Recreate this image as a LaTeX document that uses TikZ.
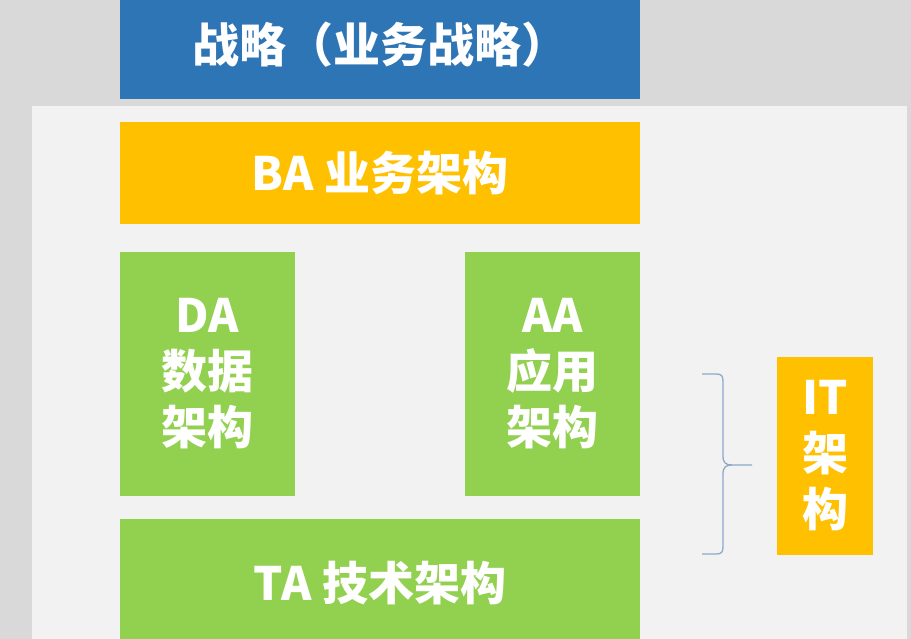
\documentclass[tikz,border=0pt]{standalone}
\usepackage{fontspec}
\newfontfamily\cjk{Noto Sans CJK SC}
\definecolor{bgouter}{HTML}{D9D9D9}
\definecolor{bginner}{HTML}{F2F2F2}
\definecolor{stratblue}{HTML}{2E75B6}
\definecolor{archyellow}{HTML}{FFC000}
\definecolor{archgreen}{HTML}{92D050}
\definecolor{bracecol}{HTML}{8EA9C9}
\tikzset{
  archbox/.style={draw=none, inner sep=0pt, text=white, align=center,
    font=\cjk\bfseries\fontsize{46}{56}\selectfont},
  titlebox/.style={archbox, font=\cjk\bfseries\fontsize{47}{56}\selectfont},
}
\begin{document}
\begin{tikzpicture}[x=1pt,y=-1pt]
\useasboundingbox (0,0) rectangle (911,639);
\fill[bgouter] (0,0) rectangle (911,639);
\fill[bginner] (32,106) rectangle (907,645);
\node[titlebox, fill=stratblue, minimum width=520pt, minimum height=108pt] (strat) at (380,45) {战略（业务战略）};
\node[archbox, fill=archyellow, minimum width=520pt, minimum height=102pt] (ba) at (380,173) {BA 业务架构};
\node[archbox, fill=archgreen, minimum width=175pt, minimum height=244pt] (da) at (207.5,374) {DA\\数据\\架构};
\node[archbox, fill=archgreen, minimum width=175pt, minimum height=244pt] (aa) at (552.5,374) {AA\\应用\\架构};
\node[archbox, fill=archgreen, minimum width=520pt, minimum height=128pt] (ta) at (380,583) {TA 技术架构};
\node[archbox, fill=archyellow, minimum width=96pt, minimum height=198pt] (it) at (825,456) {IT\\架\\构};
\coordinate (btop) at (702,374);
\coordinate (bbot) at (702,554);
\coordinate (btip) at (752,465);
\draw[bracecol, line width=1.3pt]
  (btop) -- (716,374) .. controls (722,374) and (723,376) .. (723,382)
  -- (723,456) .. controls (723,463) and (726,465) .. (732,465) -- (btip);
\draw[bracecol, line width=1.3pt]
  (bbot) -- (716,554) .. controls (722,554) and (723,552) .. (723,546)
  -- (723,474) .. controls (723,467) and (726,465) .. (732,465);
\end{tikzpicture}
\end{document}
